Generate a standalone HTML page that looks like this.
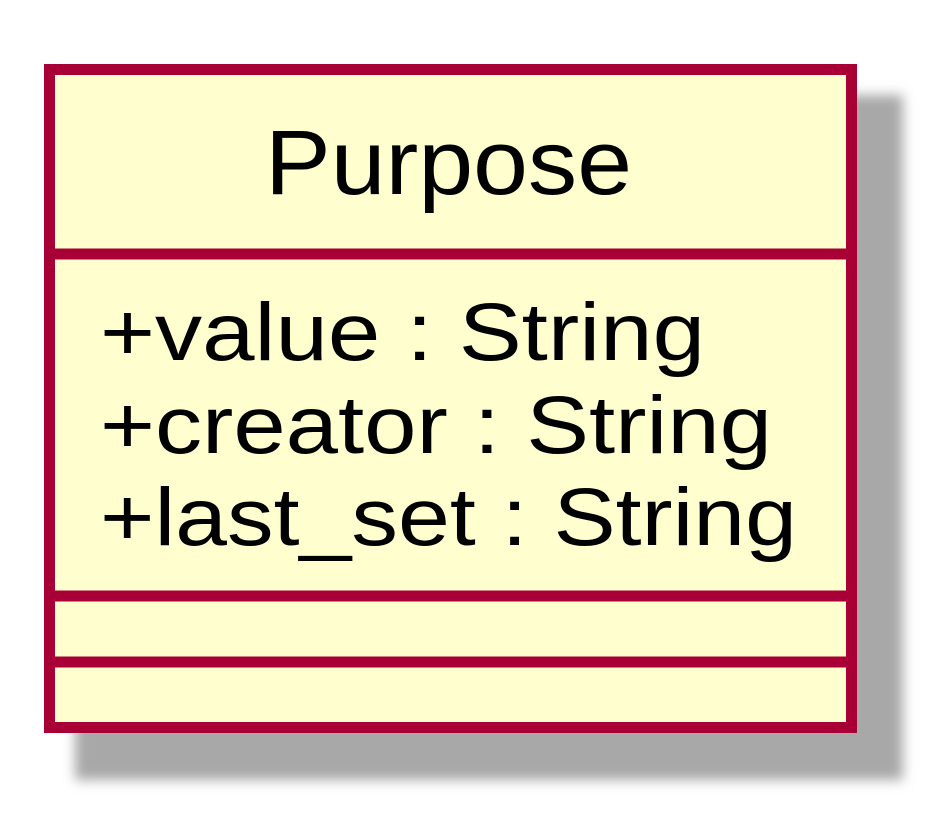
<!DOCTYPE html>
<html><head><style>body{margin:0;background:#fff}svg{display:block}</style></head><body>
<svg width="941" height="820" viewBox="0 0 941 820" xmlns="http://www.w3.org/2000/svg">
<defs><filter id="b" x="-10%" y="-10%" width="120%" height="120%"><feGaussianBlur stdDeviation="6"/></filter></defs>
<rect x="75" y="95" width="828" height="685" fill="#a8a8a8" filter="url(#b)"/>
<rect x="49.5" y="69.5" width="802" height="658" fill="#FEFECE" stroke="#A80036" stroke-width="11"/>
<line x1="44" y1="254" x2="857" y2="254" stroke="#A80036" stroke-width="11"/>
<line x1="44" y1="596" x2="857" y2="596" stroke="#A80036" stroke-width="11"/>
<line x1="44" y1="662" x2="857" y2="662" stroke="#A80036" stroke-width="11"/>
<g font-family="Liberation Sans, sans-serif" fill="#000">
<text x="265" y="194" font-size="92" textLength="367" lengthAdjust="spacingAndGlyphs">Purpose</text>
<text x="100" y="360" font-size="82" textLength="605" lengthAdjust="spacingAndGlyphs">+value : String</text>
<text x="100" y="453" font-size="82" textLength="672" lengthAdjust="spacingAndGlyphs">+creator : String</text>
<text x="100" y="545" font-size="82" textLength="697" lengthAdjust="spacingAndGlyphs">+last_set : String</text>
</g>
</svg>
</body></html>
